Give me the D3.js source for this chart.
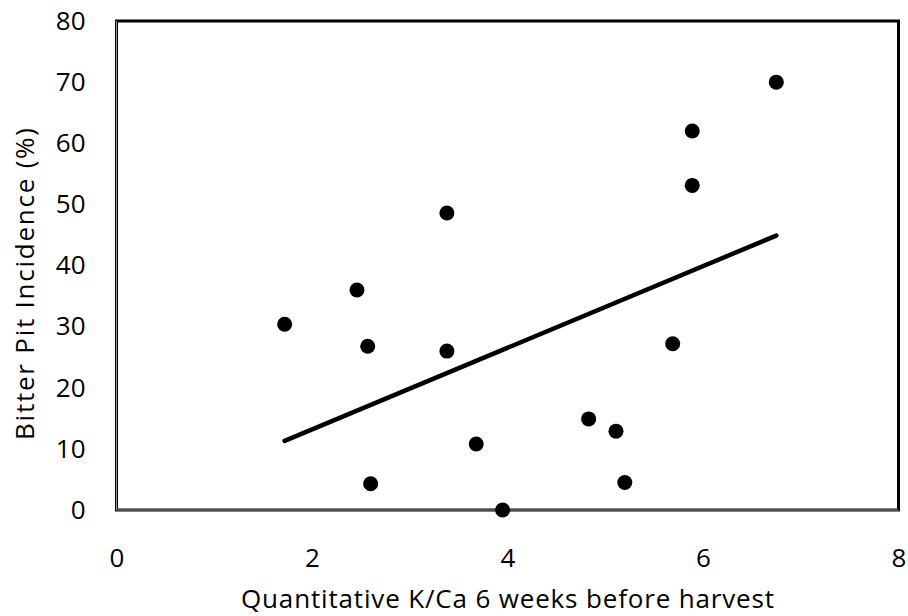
<!DOCTYPE html>
<html>
<head>
<meta charset="utf-8">
<script src="https://cdn.jsdelivr.net/npm/d3@7"></script>
<style>
  body { margin: 0; background: #fff; }
  svg { display: block; font-family: "Open Sans", "Liberation Sans", sans-serif; }
</style>
</head>
<body>
<svg id="chart" width="908" height="616"></svg>
<script>
// K/Ca ratio vs bitter pit incidence
const kca = [1.72, 2.46, 2.57, 2.60, 3.38, 3.38, 3.68, 3.95, 4.83, 5.11, 5.20, 5.69, 5.89, 5.89, 6.75];
const bitterPit = [30.4, 36.0, 26.8, 4.3, 48.6, 26.0, 10.8, 0, 14.9, 12.9, 4.5, 27.2, 62.0, 53.1, 70.0];
// linear trendline as drawn (end points)
const trendX = [1.72, 6.75];
const trendY = [11.3, 44.9];
const xTicks = [0, 2, 4, 6, 8];
const yTicks = [0, 10, 20, 30, 40, 50, 60, 70, 80];
const xTitle = "Quantitative K/Ca 6 weeks before harvest";
const yTitle = "Bitter Pit Incidence (%)";

const svg = d3.select("#chart");
const margin = { top: 21, right: 9.5, bottom: 106, left: 116.5 };
const width = 908 - margin.left - margin.right;
const height = 616 - margin.top - margin.bottom;

const g = svg.append("g").attr("transform", "translate(" + margin.left + "," + margin.top + ")");

const x = d3.scaleLinear().domain([0, 8]).range([0, width]);
const y = d3.scaleLinear().domain([0, 80]).range([height, 0]);

const data = kca.map((k, i) => ({ x: k, y: bitterPit[i] }));

// frame
g.append("rect")
  .attr("width", width).attr("height", height)
  .attr("fill", "none").attr("stroke", "#000").attr("stroke-width", 3);
// gray axis lines on left and bottom
g.append("line").attr("x1", 0).attr("x2", 0).attr("y1", 0).attr("y2", height)
  .attr("stroke", "#999").attr("stroke-width", 1);
g.append("line").attr("x1", 0).attr("x2", width).attr("y1", height).attr("y2", height)
  .attr("stroke", "#999").attr("stroke-width", 1);

// axes (labels only)
const xAxis = g.append("g")
  .attr("transform", "translate(0," + height + ")")
  .call(d3.axisBottom(x).tickValues(xTicks).tickSize(0).tickPadding(39));
const yAxis = g.append("g")
  .call(d3.axisLeft(y).tickValues(yTicks).tickSize(0).tickPadding(31));
[xAxis, yAxis].forEach(a => {
  a.select(".domain").remove();
  a.selectAll("text").attr("font-size", 26).attr("fill", "#000")
    .attr("font-family", "'Open Sans', sans-serif");
});

const fit = trendX.map((v, i) => ({ x: v, y: trendY[i] }));
g.append("path")
  .datum(fit)
  .attr("fill", "none").attr("stroke", "#000").attr("stroke-width", 4.5)
  .attr("stroke-linecap", "round")
  .attr("d", d3.line().x(d => x(d.x)).y(d => y(d.y)));

g.selectAll(".dot")
  .data(data)
  .enter().append("circle")
  .attr("class", "dot")
  .attr("cx", d => x(d.x))
  .attr("cy", d => y(d.y))
  .attr("r", 7.5)
  .attr("fill", "#000");

// titles
svg.append("text")
  .attr("x", margin.left + width / 2).attr("y", 608)
  .attr("text-anchor", "middle").attr("font-size", 26).attr("fill", "#000")
  .attr("textLength", 533).attr("lengthAdjust", "spacing")
  .text(xTitle);
svg.append("text")
  .attr("transform", "translate(34,284) rotate(-90)")
  .attr("text-anchor", "middle").attr("font-size", 26).attr("fill", "#000")
  .attr("textLength", 312).attr("lengthAdjust", "spacing")
  .text(yTitle);
</script>
</body>
</html>
